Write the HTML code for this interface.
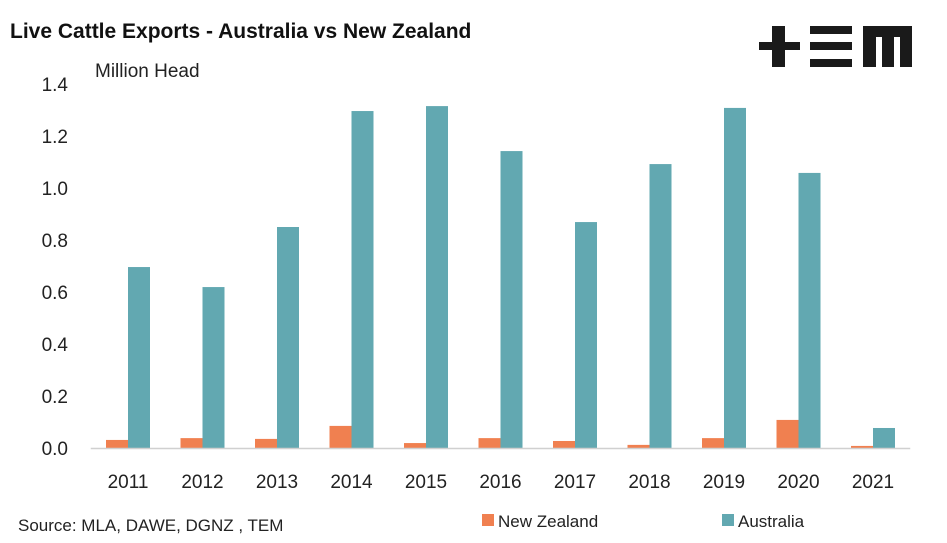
<!DOCTYPE html>
<html><head><meta charset="utf-8"><style>
body{margin:0;background:#fff;}
svg{display:block;font-family:"Liberation Sans",sans-serif;}
</style></head><body>
<svg width="947" height="543" viewBox="0 0 947 543">
<text x="10" y="38" font-size="21" font-weight="bold" fill="#111">Live Cattle Exports - Australia vs New Zealand</text>
<text x="95" y="77" font-size="19" fill="#222">Million Head</text>
<g fill="#1a1a1a">
<rect x="759" y="42" width="41" height="8"/><rect x="772" y="26" width="13" height="41"/>
<rect x="810" y="26" width="42" height="8"/><rect x="810" y="42" width="42" height="8"/><rect x="810" y="59" width="42" height="8"/>
<path d="M863 26H912V67H900V37H894V67H882V37H876V67H863Z"/>
</g>
<g id="yaxis"></g><g id="bars"></g><g id="xaxis"></g>
<text x="18" y="531" font-size="17" fill="#222">Source: MLA, DAWE, DGNZ , TEM</text>
<rect x="482" y="514" width="12" height="12" fill="#F08050"/>
<text x="498" y="527" font-size="17" fill="#222">New Zealand</text>
<rect x="722" y="514" width="12" height="12" fill="#62A8B1"/>
<text x="738" y="527" font-size="17" fill="#222">Australia</text>
</svg>
<script>
const categories=["2011","2012","2013","2014","2015","2016","2017","2018","2019","2020","2021"];
const newZealand=[0.031,0.038,0.035,0.085,0.019,0.038,0.027,0.012,0.038,0.108,0.008];
const australia=[0.696,0.619,0.85,1.296,1.315,1.142,0.869,1.092,1.308,1.058,0.077];
const yTicks=["0.0","0.2","0.4","0.6","0.8","1.0","1.2","1.4"];
const NS="http://www.w3.org/2000/svg";
const y0=448,yTop=84,yMax=1.4,x0=90.75,x1=910.25;
const band=(x1-x0)/categories.length;
function yPos(v){return y0-(v/yMax)*(y0-yTop);}
function xPos(i){return x0+band*(i+0.5);}
function mk(tag,attrs,parent){const e=document.createElementNS(NS,tag);for(const k in attrs)e.setAttribute(k,attrs[k]);parent.appendChild(e);return e;}
const ya=document.getElementById('yaxis'),ba=document.getElementById('bars'),xa=document.getElementById('xaxis');
yTicks.forEach(t=>{const e=mk('text',{x:68,y:yPos(parseFloat(t))+7,'font-size':19,fill:'#222','text-anchor':'end'},ya);e.textContent=t;

});
const bw=22;
categories.forEach((c,i)=>{const cx=xPos(i);
const n=mk('rect',{x:cx-bw,y:yPos(newZealand[i]),width:bw,height:y0-yPos(newZealand[i]),fill:'#F08050'},ba);


const a=mk('rect',{x:cx,y:yPos(australia[i]),width:bw,height:y0-yPos(australia[i]),fill:'#62A8B1'},ba);


const t=mk('text',{x:cx,y:488,'font-size':19,fill:'#222','text-anchor':'middle'},xa);t.textContent=c;

});
const l=mk('line',{x1:x0,x2:x1,y1:y0+0.5,y2:y0+0.5,stroke:'#d0d0d0','stroke-width':1.5},xa);


</script>
</body></html>
